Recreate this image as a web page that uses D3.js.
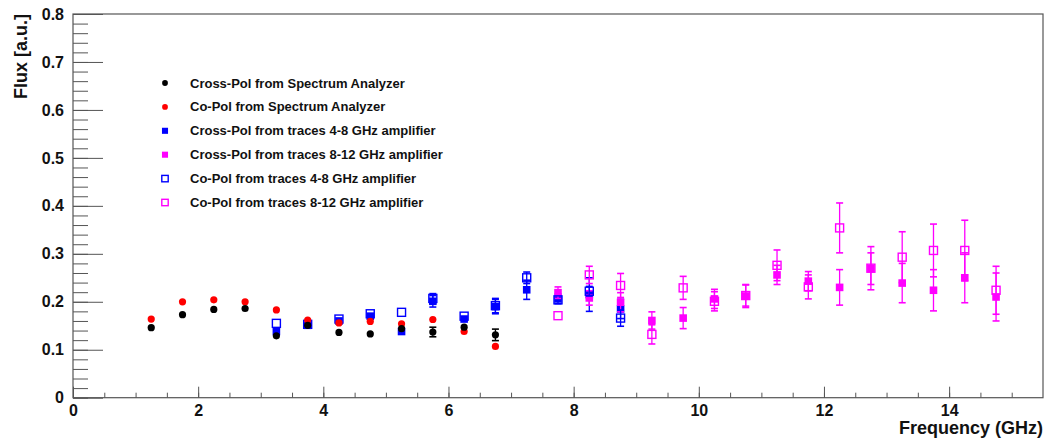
<!DOCTYPE html>
<html>
<head>
<meta charset="utf-8">
<script src="https://cdn.jsdelivr.net/npm/d3@7"></script>
<style>
  body { margin: 0; background: #fff; }
  text { font-family: "Liberation Sans", Arial, Helvetica, sans-serif; font-weight: bold; }
</style>
</head>
<body>
<div id="chart"></div>
<script>
const WIDTH = 1049
const HEIGHT = 445

// data
const freqSA = [1.25, 1.75, 2.25, 2.75, 3.25, 3.75, 4.25, 4.75, 5.25, 5.75, 6.25, 6.75]
const crossSA = [0.146, 0.173, 0.184, 0.186, 0.129, 0.151, 0.136, 0.133, 0.144, 0.137, 0.147, 0.131]
const crossSAErr = [0.004, 0.004, 0.004, 0.004, 0.005, 0.004, 0.004, 0.005, 0.005, 0.010, 0.008, 0.012]
const coSA = [0.164, 0.200, 0.204, 0.200, 0.183, 0.162, 0.156, 0.159, 0.154, 0.163, 0.138, 0.107]
const coSAErr = [0.003, 0.003, 0.003, 0.003, 0.003, 0.003, 0.003, 0.003, 0.004, 0.003, 0.004, 0.003]

const freqLow = [3.25, 3.75, 4.25, 4.75, 5.25, 5.75, 6.25, 6.75, 7.25, 7.75, 8.25, 8.75]
const crossLow = [0.138, 0.151, 0.160, 0.170, 0.138, 0.201, 0.164, 0.190, 0.225, 0.206, 0.215, 0.185]
const crossLowErr = [0.005, 0.004, 0.005, 0.005, 0.005, 0.012, 0.006, 0.015, 0.020, 0.010, 0.035, 0.020]
const coLow = [0.155, 0.153, 0.164, 0.175, 0.178, 0.207, 0.170, 0.192, 0.250, 0.204, 0.222, 0.166]
const coLowErr = [0.004, 0.004, 0.004, 0.005, 0.004, 0.010, 0.006, 0.015, 0.012, 0.008, 0.010, 0.017]

const freqHigh = [7.75, 8.25, 8.75, 9.25, 9.75, 10.25, 10.75, 11.25, 11.75, 12.25, 12.75, 13.25, 13.75, 14.25, 14.75]
const crossHigh = [0.219, 0.208, 0.199, 0.161, 0.166, 0.206, 0.212, 0.256, 0.243, 0.230, 0.269, 0.239, 0.224, 0.250, 0.210]
const crossHighErr = [0.012, 0.015, 0.020, 0.018, 0.022, 0.020, 0.024, 0.020, 0.020, 0.037, 0.033, 0.041, 0.043, 0.052, 0.050]
const coHigh = [0.171, 0.256, 0.234, 0.132, 0.229, 0.201, 0.213, 0.276, 0.231, 0.354, 0.270, 0.293, 0.307, 0.307, 0.224]
const coHighErr = [0.008, 0.018, 0.025, 0.020, 0.024, 0.020, 0.022, 0.032, 0.025, 0.052, 0.045, 0.053, 0.055, 0.063, 0.050]

const xTicks = [0, 2, 4, 6, 8, 10, 12, 14]
const yTicks = [0, 0.1, 0.2, 0.3, 0.4, 0.5, 0.6, 0.7, 0.8]

const legendLabels = [
    "Cross-Pol from Spectrum Analyzer",
    "Co-Pol from Spectrum Analyzer",
    "Cross-Pol from traces 4-8 GHz amplifier",
    "Cross-Pol from traces 8-12 GHz amplifier",
    "Co-Pol from traces 4-8 GHz amplifier",
    "Co-Pol from traces 8-12 GHz amplifier"
]

// plot frame
const padL = 73, padR = 1043, padT = 14, padB = 397.7

const x = d3.scaleLinear().domain([0, 15.5]).range([padL, padR])
const y = d3.scaleLinear().domain([0, 0.8]).range([padB, padT])

const svg = d3.select("#chart")
    .append("svg")
    .attr("width", WIDTH)
    .attr("height", HEIGHT)

svg.append("rect")
    .attr("width", WIDTH)
    .attr("height", HEIGHT)
    .attr("fill", "#fff")

// minor ticks
const xMinor = d3.range(0, 15.5, 0.5)
const yMinor = d3.range(0, 0.801, 0.02)

svg.append("g")
    .attr("transform", `translate(0,${padB})`)
    .call(d3.axisBottom(x).tickValues(xMinor).tickSize(-5).tickFormat(""))
svg.append("g")
    .attr("transform", `translate(${padL},0)`)
    .call(d3.axisLeft(y).tickValues(yMinor).tickSize(-15).tickFormat(""))

// major ticks + labels
svg.append("g")
    .attr("transform", `translate(0,${padB})`)
    .call(d3.axisBottom(x).tickValues(xTicks).tickSize(-11).tickPadding(7).tickFormat(d3.format("d")))
svg.append("g")
    .attr("transform", `translate(${padL},0)`)
    .call(d3.axisLeft(y).tickValues(yTicks).tickSize(-30).tickPadding(9)
        .tickFormat(d => d === 0 ? "0" : d3.format(".1f")(d)))

svg.selectAll(".domain").remove()
svg.selectAll(".tick line").attr("stroke", "#555")
svg.selectAll(".tick text")
    .attr("font-size", 16)
    .attr("fill", "#111")
    .attr("font-family", "Liberation Sans, Arial, sans-serif")
    .attr("font-weight", "bold")

svg.append("rect")
    .attr("x", padL)
    .attr("y", padT)
    .attr("width", padR - padL)
    .attr("height", padB - padT)
    .attr("fill", "none")
    .attr("stroke", "#555")
    .attr("stroke-width", 1.2)

// axis titles
svg.append("text")
    .attr("x", padR)
    .attr("y", 434)
    .attr("text-anchor", "end")
    .attr("font-size", 18)
    .attr("fill", "#111")
    .text("Frequency (GHz)")

svg.append("text")
    .attr("transform", `translate(27,${padT}) rotate(-90)`)
    .attr("text-anchor", "end")
    .attr("font-size", 18)
    .attr("fill", "#111")
    .text("Flux [a.u.]")

// series
const series = [
    { f: freqLow, v: crossLow, e: crossLowErr, color: "#0000ff", shape: "square", fill: true },
    { f: freqHigh, v: crossHigh, e: crossHighErr, color: "#ff00ff", shape: "square", fill: true },
    { f: freqLow, v: coLow, e: coLowErr, color: "#0000ff", shape: "square", fill: false },
    { f: freqHigh, v: coHigh, e: coHighErr, color: "#ff00ff", shape: "square", fill: false },
    { f: freqSA, v: coSA, e: coSAErr, color: "#ff0000", shape: "circle", fill: true },
    { f: freqSA, v: crossSA, e: crossSAErr, color: "#000000", shape: "circle", fill: true }
]

function drawMarker(g, shape, fill, color, cx, cy, k) {
    k = k || 1
    if (shape === "circle") {
        g.append("circle")
            .attr("cx", cx).attr("cy", cy).attr("r", 3.6 * k)
            .attr("fill", color)
    } else if (fill) {
        g.append("rect")
            .attr("x", cx - 3.8 * k).attr("y", cy - 3.8 * k)
            .attr("width", 7.6 * k).attr("height", 7.6 * k)
            .attr("fill", color)
    } else {
        g.append("rect")
            .attr("x", cx - 4 * k).attr("y", cy - 4 * k)
            .attr("width", 8 * k).attr("height", 8 * k)
            .attr("fill", "none")
            .attr("stroke", color)
            .attr("stroke-width", 1.4)
    }
}

series.forEach(s => {
    const g = svg.append("g")
    const pts = s.f.map((f, i) => ({ f: f, v: s.v[i], e: s.e[i] }))
    // error bars
    pts.forEach(p => {
        const cx = x(p.f)
        const y1 = y(p.v + p.e), y2 = y(p.v - p.e)
        if (y2 - y1 < 9) return
        g.append("line").attr("x1", cx).attr("x2", cx).attr("y1", y1).attr("y2", y2)
            .attr("stroke", s.color).attr("stroke-width", 1.3)
        ;[y1, y2].forEach(yy => {
            g.append("line").attr("x1", cx - 3.5).attr("x2", cx + 3.5).attr("y1", yy).attr("y2", yy)
                .attr("stroke", s.color).attr("stroke-width", 1.6)
        })
    })
    pts.forEach(p => drawMarker(g, s.shape, s.fill, s.color, x(p.f), y(p.v)))
})

// legend
const legendStyle = [
    { shape: "circle", fill: true, color: "#000000" },
    { shape: "circle", fill: true, color: "#ff0000" },
    { shape: "square", fill: true, color: "#0000ff" },
    { shape: "square", fill: true, color: "#ff00ff" },
    { shape: "square", fill: false, color: "#0000ff" },
    { shape: "square", fill: false, color: "#ff00ff" }
]
const legend = svg.append("g")
legendLabels.forEach((lab, i) => {
    const ly = 83 + i * 23.9
    const st = legendStyle[i]
    drawMarker(legend, st.shape, st.fill, st.color, 165, ly, st.shape === "circle" ? 0.8 : 0.8)
    legend.append("text")
        .attr("x", 190)
        .attr("y", ly + 4.5)
        .attr("font-size", 13)
        .attr("fill", "#111")
        .text(lab)
})
</script>
</body>
</html>
